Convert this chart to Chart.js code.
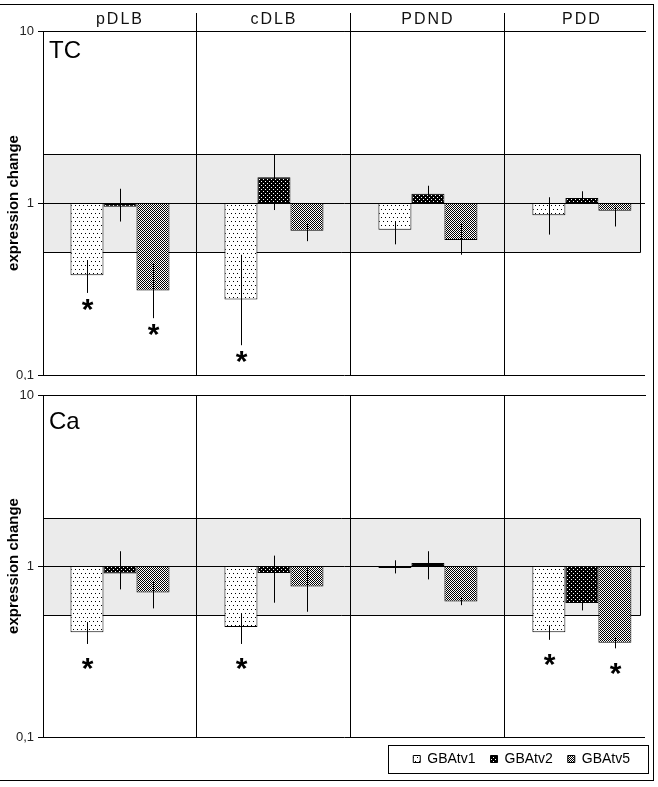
<!DOCTYPE html>
<html>
<head>
<meta charset="utf-8">
<script src="https://cdn.jsdelivr.net/npm/chart.js@4.4.1/dist/chart.umd.min.js"></script>
<style>
  body { margin: 0; background: #fff; width: 658px; height: 787px; position: relative; overflow: hidden; }
  #frame { position: absolute; left: -1px; top: 4px; width: 655px; height: 777px; border: 1px solid #000; box-sizing: border-box; }
  canvas { position: absolute; left: 0; }
  #tcChart { top: 0; }
  #caChart { top: 380px; }
</style>
</head>
<body>
<div id="frame"></div>
<canvas id="tcChart" width="658" height="380"></canvas>
<canvas id="caChart" width="658" height="407"></canvas>
<script>
// categories, series and ticks
const groups = ['pDLB', 'cDLB', 'PDND', 'PDD'];
const seriesNames = ['GBAtv1', 'GBAtv2', 'GBAtv5'];
const yTicks = [0.1, 1, 10];
const bandRange = [0.52, 1.92];

// TC panel (expression change, error range, significance)
const tcV1 = [0.38, 0.275, 0.70, 0.85];
const tcV2 = [0.95, 1.41, 1.13, 1.07];
const tcV5 = [0.31, 0.69, 0.61, 0.90];
const tcHi1 = [0.466, 0.50, 0.78, 1.08];
const tcLo1 = [0.30, 0.149, 0.575, 0.655];
const tcHi2 = [1.21, 1.92, 1.26, 1.17];
const tcLo2 = [0.78, 0.91, 1.0, 1.0];
const tcHi5 = [0.445, 0.755, 0.755, 0.95];
const tcLo5 = [0.214, 0.60, 0.50, 0.73];
const tcSig1 = [true, true, false, false];
const tcSig2 = [false, false, false, false];
const tcSig5 = [true, false, false, false];

// Ca panel
const caV1 = [0.41, 0.44, 0.973, 0.41];
const caV2 = [0.905, 0.91, 1.04, 0.607];
const caV5 = [0.70, 0.76, 0.62, 0.356];
const caHi1 = [0.47, 0.53, 1.08, 0.45];
const caLo1 = [0.35, 0.35, 0.905, 0.37];
const caHi2 = [1.22, 1.15, 1.22, 0.65];
const caLo2 = [0.73, 0.61, 0.835, 0.55];
const caHi5 = [0.81, 0.97, 0.66, 0.38];
const caLo5 = [0.565, 0.54, 0.59, 0.33];
const caSig1 = [true, true, false, true];
const caSig2 = [false, false, false, false];
const caSig5 = [false, false, false, true];

const family = '"Liberation Sans", Arial, sans-serif';

// small bitmap fills like the old excel patterns
function makePattern(w, h, bg, fg, dots) {
    const c = document.createElement('canvas');
    c.width = w; c.height = h;
    const g = c.getContext('2d');
    g.fillStyle = bg;
    g.fillRect(0, 0, w, h);
    g.fillStyle = fg;
    dots.forEach(d => g.fillRect(d[0], d[1], 1, 1));
    return g.createPattern(c, 'repeat');
}
const fills = [
    makePattern(4, 8, '#fff', '#000', [[1, 1], [3, 5]]),
    makePattern(4, 4, '#000', '#fff', [[1, 1], [3, 3]]),
    makePattern(2, 2, '#fff', '#000', [[0, 0], [1, 1]])
];

function buildChart(canvasId, panelName, vals, his, los, sigs, showTop, showLegend) {
    // grey band between the limits, drawn under grid and bars
    const bandPlugin = {
        id: 'band',
        beforeDraw(chart) {
            const {ctx, chartArea, scales: {y}} = chart;
            const top = Math.round(y.getPixelForValue(bandRange[1])) + 0.5;
            const bot = Math.round(y.getPixelForValue(bandRange[0])) + 0.5;
            const right = chartArea.right - 4.5;
            ctx.save();
            ctx.fillStyle = '#ebebeb';
            ctx.fillRect(chartArea.left, top, right - chartArea.left, bot - top);
            ctx.strokeStyle = '#000';
            ctx.lineWidth = 1;
            ctx.beginPath();
            ctx.moveTo(chartArea.left, top); ctx.lineTo(right, top);
            ctx.lineTo(right, bot); ctx.lineTo(chartArea.left, bot);
            ctx.stroke();
            ctx.restore();
        }
    };

    // error lines, asterisks and panel name
    const extras = {
        id: 'extras',
        afterDatasetsDraw(chart) {
            const {ctx, scales: {y}} = chart;
            ctx.save();
            ctx.strokeStyle = '#000';
            ctx.lineWidth = 1;
            ctx.fillStyle = '#000';
            ctx.font = 'bold 30px ' + family;
            ctx.textAlign = 'center';
            chart.data.datasets.forEach((ds, s) => {
                chart.getDatasetMeta(s).data.forEach((bar, i) => {
                    const x = Math.round(bar.x) + 0.5;
                    const yHi = y.getPixelForValue(ds.errHi[i]);
                    const yLo = y.getPixelForValue(ds.errLo[i]);
                    ctx.beginPath();
                    ctx.moveTo(x, yHi);
                    ctx.lineTo(x, yLo);
                    ctx.stroke();
                    if (ds.sig[i]) ctx.fillText('*', x, yLo + 26);
                });
            });
            ctx.restore();
            if (showTop) ctx.letterSpacing = '2px';
        },
        afterDraw(chart) {
            const {ctx, chartArea} = chart;
            ctx.letterSpacing = '0px';
            ctx.save();
            ctx.fillStyle = '#000';
            ctx.font = '24px ' + family;
            ctx.textAlign = 'left';
            ctx.fillText(panelName, chartArea.left + 6, chartArea.top + 27);
            if (showLegend) {
                const hb = chart.legend.legendHitBoxes;
                const last = hb[hb.length - 1];
                const l = Math.round(hb[0].left - 25) + 0.5;
                const r = Math.round(last.left + last.width + 18) + 0.5;
                const cy = Math.round(hb[0].top + hb[0].height / 2);
                ctx.strokeStyle = '#000';
                ctx.lineWidth = 1;
                ctx.strokeRect(l, cy - 14 + 0.5, r - l, 28);
            }
            ctx.restore();
        }
    };

    const ctx = document.getElementById(canvasId).getContext('2d');
    return new Chart(ctx, {
        type: 'bar',
        data: {
            datasets: seriesNames.map((name, s) => ({
                label: name,
                data: vals[s].map((v, i) => ({x: i, y: [1, v]})),
                errHi: his[s],
                errLo: los[s],
                sig: sigs[s],
                backgroundColor: fills[s],
                borderColor: '#000',
                borderWidth: 1,
                borderSkipped: false,
                barPercentage: 1,
                categoryPercentage: 0.643
            }))
        },
        options: {
            responsive: false,
            animation: false,
            devicePixelRatio: 1,
            layout: {padding: {right: 13, bottom: showLegend ? 11 : 5}},
            plugins: {
                legend: {
                    display: showLegend,
                    position: 'bottom',
                    align: 'end',
                    labels: {boxWidth: 7, boxHeight: 7, padding: 15, color: '#000', font: {size: 14, family: family}}
                },
                tooltip: {enabled: false}
            },
            scales: {
                x: {
                    type: 'linear',
                    position: 'top',
                    offset: false,
                    min: -0.5,
                    max: groups.length - 0.59,
                    afterBuildTicks: sc => { sc.ticks = groups.map((g, i) => ({value: i})); },
                    afterFit: sc => { sc.height = showTop ? 31 : 15; },
                    ticks: {
                        display: showTop,
                        callback: v => groups[v],
                        padding: -16,
                        color: '#111',
                        font: {size: 16, family: family},
                        autoSkip: false,
                        maxRotation: 0,
                        z: 1
                    },
                    grid: {
                        offset: true,
                        color: '#000',
                        drawTicks: showTop,
                        tickLength: 18,
                        tickColor: c => c.index === 0 ? 'rgba(0,0,0,0)' : '#000'
                    },
                    border: {color: '#000'}
                },
                y: {
                    type: 'logarithmic',
                    min: 0.1,
                    max: 10,
                    afterBuildTicks: sc => { sc.ticks = yTicks.map(v => ({value: v})); },
                    afterFit: sc => { sc.width = 43; sc.paddingTop = 0; sc.paddingBottom = 0; },
                    ticks: {
                        callback: v => String(v).replace('.', ','),
                        color: '#222',
                        font: {size: 13, family: family},
                        padding: 4
                    },
                    grid: {color: '#000', tickLength: 5, tickColor: '#000'},
                    border: {color: '#000'},
                    title: {
                        display: true,
                        text: 'expression change',
                        color: '#000',
                        font: {size: 15, weight: 'bold', family: family},
                        padding: {top: 5, bottom: 0}
                    }
                }
            }
        },
        plugins: [bandPlugin, extras]
    });
}

buildChart('tcChart', 'TC',
    [tcV1, tcV2, tcV5], [tcHi1, tcHi2, tcHi5], [tcLo1, tcLo2, tcLo5], [tcSig1, tcSig2, tcSig5],
    true, false);
buildChart('caChart', 'Ca',
    [caV1, caV2, caV5], [caHi1, caHi2, caHi5], [caLo1, caLo2, caLo5], [caSig1, caSig2, caSig5],
    false, true);
</script>
</body>
</html>
